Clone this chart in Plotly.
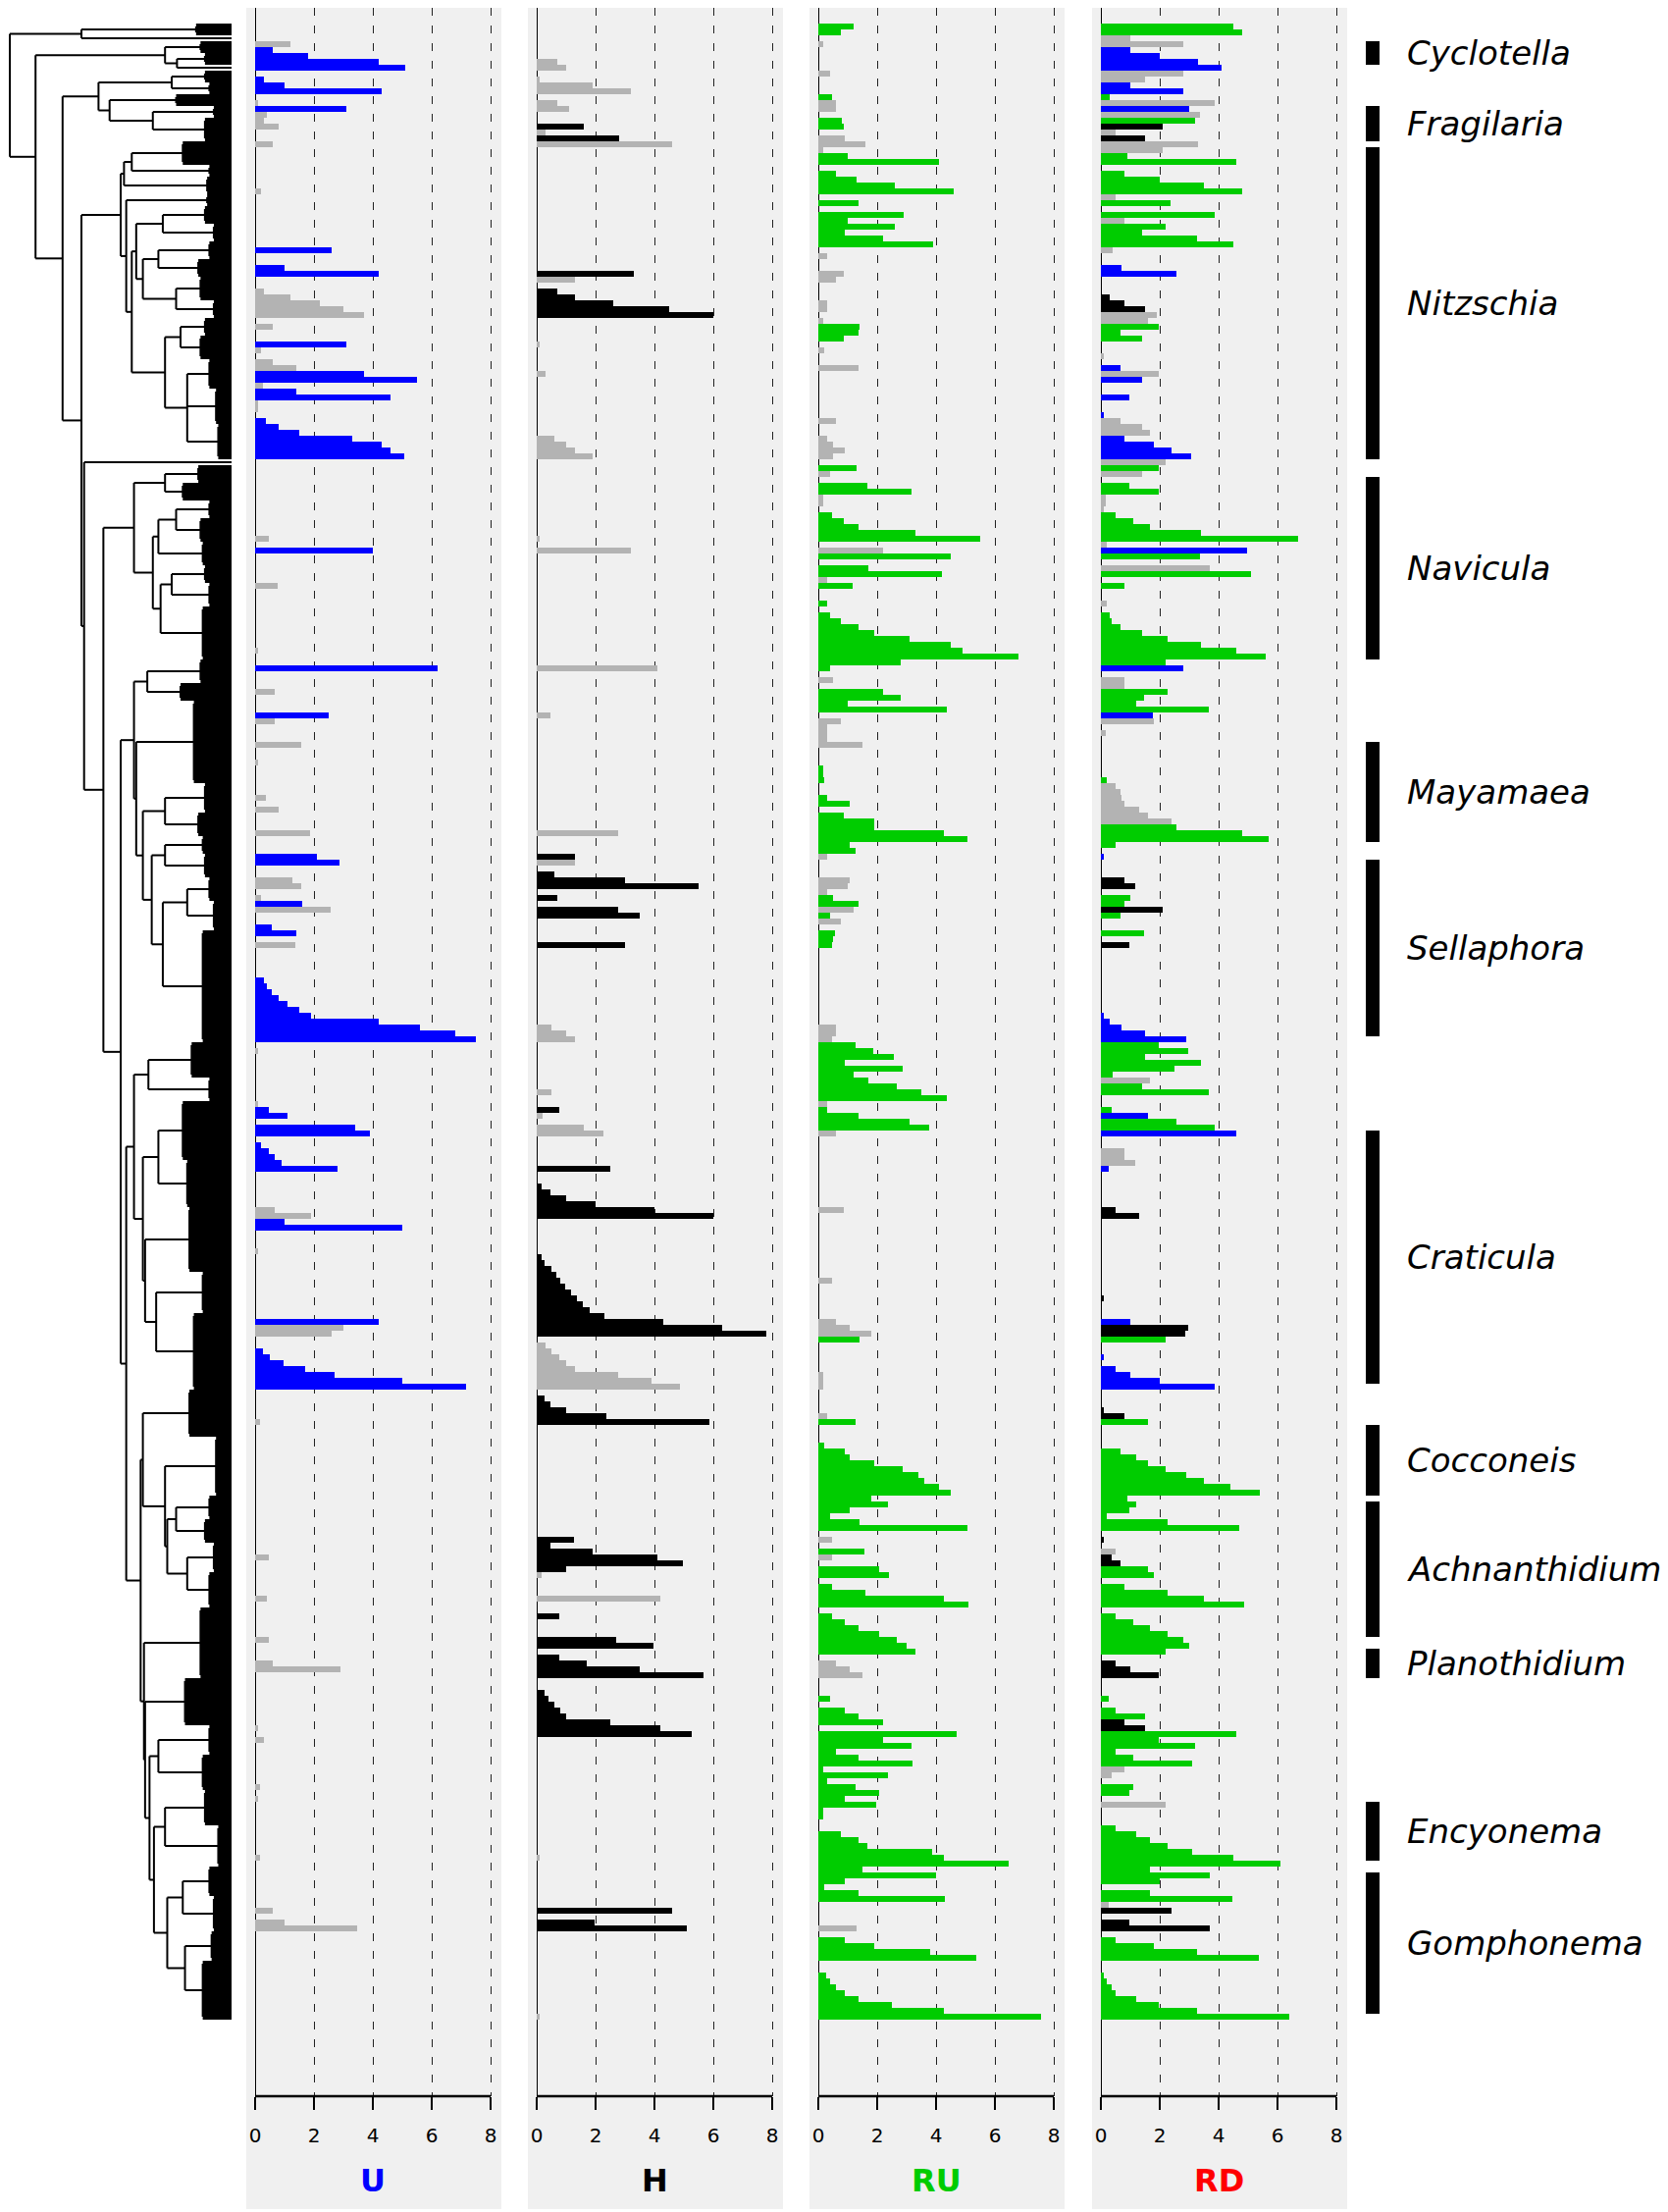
import plotly.graph_objects as go

PAGE_W, PAGE_H = 1700, 2254
PAD = 8  # default browser body margin around the plot div
W, H = PAGE_W - PAD, PAGE_H - PAD
N_ROWS = 339

PANELS = ["U", "H", "RU", "RD"]
PANEL_TITLE_COLORS = ["#0000ff", "#000000", "#00cc00", "#ff0000"]
SIG_COLORS = {"b": "#0000ff", "k": "#000000", "g": "#00cc00", "n": "#b3b3b3"}
TICKS = [0, 2, 4, 6, 8]

# (taxon index, value, significance class)
U_BARS = [
    (3, 1.2, "n"), (4, 0.6, "b"), (5, 1.8, "b"), (6, 4.2, "b"), (7, 5.1, "b"),
    (9, 0.3, "b"), (10, 1.0, "b"), (11, 4.3, "b"), (13, 0.1, "n"), (14, 3.1, "b"),
    (15, 0.4, "n"), (16, 0.3, "n"), (17, 0.8, "n"), (20, 0.6, "n"), (28, 0.2, "n"),
    (38, 2.6, "b"), (41, 1.0, "b"), (42, 4.2, "b"),
    (45, 0.3, "n"), (46, 1.2, "n"), (47, 2.2, "n"), (48, 3.0, "n"), (49, 3.7, "n"),
    (51, 0.6, "n"), (54, 3.1, "b"), (55, 0.2, "n"), (57, 0.6, "n"), (58, 1.4, "n"),
    (59, 3.7, "b"), (60, 5.5, "b"), (61, 0.25, "n"), (62, 1.4, "b"), (63, 4.6, "b"),
    (64, 0.1, "n"), (65, 0.1, "n"),
    (67, 0.35, "b"), (68, 0.8, "b"), (69, 1.5, "b"), (70, 3.3, "b"), (71, 4.3, "b"),
    (72, 4.6, "b"), (73, 5.05, "b"),
    (87, 0.45, "n"), (89, 4.0, "b"), (95, 0.75, "n"), (106, 0.1, "n"), (109, 6.2, "b"),
    (113, 0.65, "n"), (117, 2.5, "b"), (118, 0.65, "n"), (122, 1.55, "n"), (125, 0.1, "n"),
    (131, 0.35, "n"), (133, 0.8, "n"), (137, 1.85, "n"), (141, 2.1, "b"), (142, 2.85, "b"),
    (145, 1.25, "n"), (146, 1.55, "n"), (148, 0.2, "n"), (149, 1.6, "b"), (150, 2.55, "n"),
    (153, 0.55, "b"), (154, 1.4, "b"), (156, 1.35, "n"),
    (162, 0.3, "b"), (163, 0.4, "b"), (164, 0.55, "b"), (165, 0.8, "b"), (166, 1.1, "b"),
    (167, 1.5, "b"), (168, 1.9, "b"), (169, 4.2, "b"), (170, 5.6, "b"), (171, 6.8, "b"),
    (172, 7.5, "b"),
    (174, 0.1, "n"), (183, 0.1, "n"), (184, 0.45, "b"), (185, 1.1, "b"), (187, 3.4, "b"),
    (188, 3.9, "b"), (190, 0.2, "b"), (191, 0.45, "b"), (192, 0.65, "b"), (193, 0.9, "b"),
    (194, 2.8, "b"), (201, 0.65, "n"), (202, 1.9, "n"), (203, 1.0, "b"), (204, 5.0, "b"),
    (208, 0.1, "n"), (220, 4.2, "b"), (221, 3.0, "n"), (222, 2.6, "n"),
    (225, 0.25, "b"), (226, 0.5, "b"), (227, 0.95, "b"), (228, 1.7, "b"), (229, 2.7, "b"),
    (230, 5.0, "b"), (231, 7.15, "b"),
    (237, 0.15, "n"), (260, 0.45, "n"), (267, 0.4, "n"), (274, 0.45, "n"), (278, 0.6, "n"),
    (279, 2.9, "n"), (289, 0.1, "n"), (291, 0.3, "n"), (299, 0.15, "n"), (301, 0.1, "n"),
    (311, 0.15, "n"), (320, 0.6, "n"), (322, 1.0, "n"), (323, 3.45, "n"),
]

H_BARS = [
    (6, 0.7, "n"), (7, 1.0, "n"), (9, 0.1, "n"), (10, 1.9, "n"), (11, 3.2, "n"),
    (13, 0.7, "n"), (14, 1.1, "n"), (17, 1.6, "k"), (18, 0.3, "n"), (19, 2.8, "k"),
    (20, 4.6, "n"), (42, 3.3, "k"), (43, 1.3, "n"),
    (45, 0.7, "k"), (46, 1.3, "k"), (47, 2.6, "k"), (48, 4.5, "k"), (49, 6.0, "k"),
    (54, 0.1, "n"), (59, 0.3, "n"), (70, 0.6, "n"), (71, 1.0, "n"), (72, 1.3, "n"),
    (73, 1.9, "n"), (87, 0.1, "n"), (89, 3.2, "n"), (109, 4.1, "n"), (117, 0.45, "n"),
    (137, 2.75, "n"), (141, 1.3, "k"), (142, 1.3, "n"), (144, 0.6, "k"), (145, 3.0, "k"),
    (146, 5.5, "k"), (148, 0.7, "k"), (150, 2.75, "k"), (151, 3.5, "k"), (156, 3.0, "k"),
    (170, 0.5, "n"), (171, 1.0, "n"), (172, 1.3, "n"), (181, 0.5, "n"), (184, 0.75, "k"),
    (185, 0.2, "n"), (187, 1.6, "n"), (188, 2.25, "n"), (194, 2.5, "k"),
    (197, 0.15, "k"), (198, 0.45, "k"), (199, 1.0, "k"), (200, 2.0, "k"), (201, 4.0, "k"),
    (202, 6.0, "k"),
    (209, 0.15, "k"), (210, 0.25, "k"), (211, 0.5, "k"), (212, 0.65, "k"), (213, 0.8, "k"),
    (214, 0.95, "k"), (215, 1.15, "k"), (216, 1.35, "k"), (217, 1.55, "k"), (218, 1.8, "k"),
    (219, 2.3, "k"), (220, 4.3, "k"), (221, 6.3, "k"), (222, 7.8, "k"),
    (224, 0.3, "n"), (225, 0.5, "n"), (226, 0.75, "n"), (227, 1.0, "n"), (228, 1.3, "n"),
    (229, 2.75, "n"), (230, 3.9, "n"), (231, 4.85, "n"),
    (233, 0.25, "k"), (234, 0.45, "k"), (235, 1.0, "k"), (236, 2.35, "k"), (237, 5.85, "k"),
    (257, 1.25, "k"), (258, 0.45, "k"), (259, 1.9, "k"), (260, 4.1, "k"), (261, 4.95, "k"),
    (262, 1.0, "k"), (263, 0.15, "n"), (267, 4.2, "n"), (270, 0.75, "k"), (274, 2.7, "k"),
    (275, 3.95, "k"), (277, 0.75, "k"), (278, 1.7, "k"), (279, 3.5, "k"), (280, 5.65, "k"),
    (283, 0.25, "k"), (284, 0.4, "k"), (285, 0.6, "k"), (286, 0.8, "k"), (287, 1.0, "k"),
    (288, 2.5, "k"), (289, 4.2, "k"), (290, 5.25, "k"),
    (311, 0.1, "n"), (320, 4.6, "k"), (322, 1.95, "k"), (323, 5.1, "k"), (338, 0.1, "n"),
]

RU_BARS = [
    (0, 1.2, "g"), (1, 0.75, "g"), (3, 0.15, "n"), (8, 0.4, "n"), (12, 0.45, "g"),
    (13, 0.6, "n"), (14, 0.6, "n"), (16, 0.8, "g"), (17, 0.85, "g"), (19, 0.9, "n"),
    (20, 1.6, "n"), (21, 0.15, "n"), (22, 1.0, "g"), (23, 4.1, "g"),
    (25, 0.6, "g"), (26, 1.3, "g"), (27, 2.6, "g"), (28, 4.6, "g"), (30, 1.35, "g"),
    (32, 2.9, "g"), (33, 1.0, "g"), (34, 2.6, "g"), (35, 0.9, "g"), (36, 2.2, "g"),
    (37, 3.9, "g"), (39, 0.3, "n"), (42, 0.85, "n"), (43, 0.6, "n"), (47, 0.3, "n"),
    (48, 0.3, "n"), (50, 0.15, "n"), (51, 1.4, "g"), (52, 1.35, "g"), (53, 0.85, "g"),
    (55, 0.2, "n"), (58, 1.35, "n"), (67, 0.6, "n"), (70, 0.3, "n"), (71, 0.5, "n"),
    (72, 0.9, "n"), (73, 0.5, "n"), (75, 1.3, "g"), (76, 0.4, "n"), (78, 1.65, "g"),
    (79, 3.15, "g"), (80, 0.15, "n"), (81, 0.15, "n"),
    (83, 0.45, "g"), (84, 0.85, "g"), (85, 1.35, "g"), (86, 3.3, "g"), (87, 5.5, "g"),
    (89, 2.2, "n"), (90, 4.5, "g"), (92, 1.7, "g"), (93, 4.2, "g"), (94, 0.3, "n"),
    (95, 1.15, "g"), (98, 0.3, "g"), (100, 0.4, "g"), (101, 0.75, "g"),
    (102, 1.35, "g"), (103, 1.9, "g"), (104, 3.1, "g"), (105, 4.5, "g"), (106, 4.9, "g"),
    (107, 6.8, "g"), (108, 2.8, "g"), (109, 0.4, "g"), (111, 0.5, "n"),
    (113, 2.2, "g"), (114, 2.8, "g"), (115, 1.0, "g"), (116, 4.35, "g"),
    (118, 0.75, "n"), (119, 0.3, "n"), (120, 0.3, "n"), (121, 0.3, "n"), (122, 1.5, "n"),
    (126, 0.15, "g"), (127, 0.15, "g"), (128, 0.2, "g"), (131, 0.3, "g"), (132, 1.05, "g"),
    (134, 0.85, "g"), (135, 1.9, "g"), (136, 1.9, "g"), (137, 4.25, "g"), (138, 5.05, "g"),
    (139, 1.05, "g"), (140, 1.25, "g"), (141, 0.3, "n"), (145, 1.05, "n"), (146, 1.0, "n"),
    (147, 0.3, "n"), (148, 0.5, "g"), (149, 1.35, "g"), (150, 1.2, "n"), (151, 0.4, "g"),
    (152, 0.75, "n"), (154, 0.55, "g"), (155, 0.5, "g"), (156, 0.45, "g"),
    (170, 0.6, "n"), (171, 0.6, "n"), (172, 0.45, "n"),
    (173, 1.25, "g"), (174, 1.85, "g"), (175, 2.55, "g"), (176, 0.9, "g"), (177, 2.85, "g"),
    (178, 1.2, "g"), (179, 1.7, "g"), (180, 2.65, "g"), (181, 3.5, "g"), (182, 4.35, "g"),
    (183, 0.3, "n"), (184, 0.3, "g"), (185, 1.35, "g"), (186, 3.1, "g"), (187, 3.75, "g"),
    (188, 0.6, "n"), (201, 0.85, "n"), (213, 0.45, "n"), (220, 0.6, "n"), (221, 1.05, "n"),
    (222, 1.8, "n"), (223, 1.4, "g"), (229, 0.15, "n"), (230, 0.15, "n"), (231, 0.15, "n"),
    (236, 0.3, "n"), (237, 1.25, "g"), (241, 0.2, "g"),
    (242, 0.9, "g"), (243, 1.05, "g"), (244, 1.9, "g"), (245, 2.85, "g"), (246, 3.4, "g"),
    (247, 3.6, "g"), (248, 4.1, "g"), (249, 4.5, "g"), (250, 1.8, "g"),
    (251, 2.35, "g"), (252, 1.05, "g"), (253, 0.4, "g"), (254, 1.4, "g"), (255, 5.05, "g"),
    (257, 0.45, "n"), (259, 1.55, "g"), (260, 0.45, "n"), (262, 2.05, "g"), (263, 2.4, "g"),
    (265, 0.45, "g"), (266, 1.6, "g"), (267, 4.25, "g"), (268, 5.1, "g"),
    (270, 0.45, "g"), (271, 0.9, "g"), (272, 1.35, "g"), (273, 2.05, "g"), (274, 2.65, "g"),
    (275, 3.0, "g"), (276, 3.3, "g"), (278, 0.6, "n"), (279, 1.05, "n"), (280, 1.5, "n"),
    (284, 0.4, "g"), (286, 0.9, "g"), (287, 1.35, "g"), (288, 2.2, "g"),
    (290, 4.7, "g"), (291, 2.2, "g"), (292, 3.15, "g"), (293, 0.6, "g"), (294, 1.35, "g"),
    (295, 3.2, "g"), (296, 0.15, "g"), (297, 2.35, "g"), (298, 0.3, "g"), (299, 1.25, "g"),
    (300, 2.05, "g"), (301, 0.9, "g"), (302, 1.95, "g"), (303, 0.15, "g"), (304, 0.15, "g"),
    (307, 0.75, "g"), (308, 1.35, "g"), (309, 1.65, "g"), (310, 3.85, "g"), (311, 4.25, "g"),
    (312, 6.45, "g"), (313, 1.5, "g"), (314, 4.0, "g"), (315, 0.9, "g"), (316, 0.2, "g"),
    (317, 1.35, "g"), (318, 4.3, "g"), (323, 1.3, "n"),
    (325, 0.9, "g"), (326, 1.9, "g"), (327, 3.8, "g"), (328, 5.35, "g"),
    (331, 0.25, "g"), (332, 0.4, "g"), (333, 0.6, "g"), (334, 0.9, "g"), (335, 1.35, "g"),
    (336, 2.5, "g"), (337, 4.25, "g"), (338, 7.55, "g"),
]

RD_BARS = [
    (0, 4.5, "g"), (1, 4.8, "g"), (2, 1.0, "n"), (3, 2.8, "n"),
    (4, 1.0, "b"), (5, 2.0, "b"), (6, 3.3, "b"), (7, 4.1, "b"), (8, 2.8, "n"), (9, 1.5, "n"),
    (10, 1.0, "b"), (11, 2.8, "b"), (12, 0.3, "g"), (13, 3.85, "n"), (14, 3.0, "b"),
    (15, 3.35, "n"), (16, 3.2, "g"), (17, 2.1, "k"), (18, 0.5, "n"), (19, 1.5, "k"),
    (20, 3.3, "n"), (21, 2.1, "n"), (22, 0.9, "g"), (23, 4.6, "g"),
    (25, 0.8, "g"), (26, 2.0, "g"), (27, 3.5, "g"), (28, 4.8, "g"), (29, 0.5, "n"),
    (30, 2.35, "g"), (32, 3.85, "g"), (33, 0.8, "n"), (34, 2.2, "g"),
    (35, 1.4, "g"), (36, 3.25, "g"), (37, 4.5, "g"), (38, 0.4, "n"), (41, 0.7, "b"),
    (42, 2.55, "b"), (46, 0.3, "k"), (47, 0.8, "k"), (48, 1.5, "k"), (49, 1.9, "n"),
    (50, 1.6, "n"), (51, 1.95, "g"), (52, 0.65, "g"), (53, 1.4, "g"), (56, 0.1, "n"),
    (58, 0.65, "b"), (59, 1.95, "n"), (60, 1.4, "b"), (63, 0.95, "b"), (66, 0.1, "b"),
    (67, 0.65, "n"), (68, 1.4, "n"), (69, 1.65, "n"),
    (70, 0.8, "b"), (71, 1.8, "b"), (72, 2.4, "b"), (73, 3.05, "b"), (74, 2.2, "n"),
    (75, 1.95, "g"), (76, 1.4, "n"), (78, 0.95, "g"), (79, 1.95, "g"),
    (80, 0.15, "n"), (81, 0.15, "n"), (82, 0.1, "n"),
    (83, 0.5, "g"), (84, 1.1, "g"), (85, 1.65, "g"), (86, 3.4, "g"), (87, 6.7, "g"),
    (88, 0.2, "n"), (89, 4.95, "b"), (90, 3.35, "g"), (92, 3.7, "n"), (93, 5.1, "g"),
    (95, 0.8, "g"), (98, 0.2, "n"), (100, 0.3, "g"), (101, 0.35, "g"), (102, 0.65, "g"),
    (103, 1.4, "g"), (104, 2.25, "g"), (105, 3.4, "g"), (106, 4.6, "g"), (107, 5.6, "g"),
    (108, 2.2, "g"), (109, 2.8, "b"), (111, 0.8, "n"), (112, 0.8, "n"),
    (113, 2.25, "g"), (114, 1.45, "g"), (115, 1.2, "g"), (116, 3.65, "g"), (117, 1.75, "b"),
    (118, 1.8, "n"), (120, 0.15, "n"), (128, 0.2, "g"),
    (129, 0.5, "n"), (130, 0.65, "n"), (131, 0.7, "n"), (132, 0.8, "n"), (133, 1.3, "n"),
    (134, 1.6, "n"), (135, 2.4, "n"), (136, 2.55, "g"), (137, 4.8, "g"), (138, 5.7, "g"),
    (139, 0.5, "g"), (141, 0.1, "b"), (145, 0.8, "k"), (146, 1.15, "k"), (148, 1.0, "g"),
    (149, 0.8, "g"), (150, 2.1, "k"), (151, 0.65, "g"), (154, 1.45, "g"), (156, 0.95, "k"),
    (168, 0.1, "b"), (169, 0.3, "b"), (170, 0.7, "b"), (171, 1.5, "b"), (172, 2.9, "b"),
    (173, 1.95, "g"), (174, 2.95, "g"), (175, 1.5, "g"), (176, 3.4, "g"), (177, 2.5, "g"),
    (178, 0.4, "g"), (179, 1.65, "n"), (180, 1.4, "g"), (181, 3.65, "g"),
    (184, 0.35, "g"), (185, 1.6, "b"), (186, 2.55, "g"), (187, 3.85, "g"), (188, 4.6, "b"),
    (191, 0.8, "n"), (192, 0.8, "n"), (193, 1.15, "n"), (194, 0.25, "b"),
    (201, 0.5, "k"), (202, 1.3, "k"), (216, 0.1, "k"), (220, 1.0, "b"), (221, 2.95, "k"),
    (222, 2.85, "k"), (223, 2.2, "g"), (226, 0.1, "b"),
    (228, 0.5, "b"), (229, 1.0, "b"), (230, 2.0, "b"), (231, 3.85, "b"),
    (235, 0.1, "k"), (236, 0.8, "k"), (237, 1.6, "g"),
    (242, 0.65, "g"), (243, 1.2, "g"), (244, 1.6, "g"), (245, 2.2, "g"), (246, 2.9, "g"),
    (247, 3.5, "g"), (248, 4.4, "g"), (249, 5.4, "g"), (250, 0.9, "g"),
    (251, 1.2, "g"), (252, 0.95, "g"), (253, 0.2, "g"), (254, 2.25, "g"), (255, 4.7, "g"),
    (257, 0.1, "k"), (259, 0.5, "n"), (260, 0.35, "k"), (261, 0.65, "k"),
    (262, 1.6, "g"), (263, 1.8, "g"),
    (265, 0.8, "g"), (266, 2.25, "g"), (267, 3.5, "g"), (268, 4.85, "g"),
    (270, 0.5, "g"), (271, 1.1, "g"), (272, 1.65, "g"), (273, 2.25, "g"), (274, 2.8, "g"),
    (275, 3.0, "g"), (276, 2.2, "g"), (278, 0.5, "k"), (279, 1.0, "k"), (280, 1.95, "k"),
    (284, 0.25, "g"), (286, 0.5, "g"), (287, 1.5, "g"), (288, 0.8, "k"), (289, 1.5, "k"),
    (290, 4.6, "g"), (291, 1.95, "g"), (292, 3.2, "g"), (293, 0.5, "g"), (294, 1.1, "g"),
    (295, 3.1, "g"), (296, 0.8, "n"), (297, 0.35, "n"), (299, 1.1, "g"), (300, 0.95, "g"),
    (302, 2.2, "n"),
    (306, 0.5, "g"), (307, 1.2, "g"), (308, 1.65, "g"), (309, 2.25, "g"), (310, 3.1, "g"),
    (311, 4.5, "g"), (312, 6.1, "g"), (313, 1.65, "g"), (314, 3.7, "g"), (315, 2.0, "g"),
    (317, 1.65, "g"), (318, 4.45, "g"), (319, 0.25, "n"), (320, 2.4, "k"),
    (322, 0.95, "k"), (323, 3.7, "k"),
    (325, 0.5, "g"), (326, 1.8, "g"), (327, 3.25, "g"), (328, 5.35, "g"),
    (331, 0.1, "g"), (332, 0.2, "g"), (333, 0.35, "g"), (334, 0.5, "g"), (335, 1.2, "g"),
    (336, 1.95, "g"), (337, 3.25, "g"), (338, 6.4, "g"),
]

GENUS_NAMES = ["Cyclotella", "Fragilaria", "Nitzschia", "Navicula", "Mayamaea", "Sellaphora",
               "Craticula", "Cocconeis", "Achnanthidium", "Planothidium", "Encyonema", "Gomphonema"]
GENUS_FIRST = [3, 14, 21, 77, 122, 142, 188, 238, 251, 276, 302, 314]
GENUS_LAST = [6, 19, 73, 107, 138, 171, 230, 249, 273, 280, 311, 337]

# Dendrogram: ("N", height, [children]) internal node, ("F", n_leaves, height) terminal fan
NITZ = ("N", 0.5, [
    ("N", 0.485, [("N", 0.45, [("F", 4, 0.22), ("F", 2, 0.10)]), ("F", 3, 0.11)]),
    ("N", 0.475, [
        ("F", 2, 0.11),
        ("N", 0.45, [
            ("N", 0.43, [
                ("N", 0.31, [("F", 3, 0.12), ("F", 3, 0.08)]),
                ("N", 0.40, [("N", 0.33, [("F", 3, 0.10), ("F", 3, 0.15)]),
                             ("N", 0.25, [("F", 4, 0.14), ("F", 3, 0.08)])]),
            ]),
            ("N", 0.30, [("N", 0.23, [("F", 3, 0.12), ("F", 4, 0.14)]),
                         ("N", 0.20, [("F", 5, 0.10), ("F", 6, 0.07), ("F", 6, 0.06)])]),
        ]),
    ]),
])
NAV = ("N", 0.44, [
    ("N", 0.30, [("F", 3, 0.15), ("F", 3, 0.22)]),
    ("N", 0.355, [
        ("N", 0.33, [("N", 0.25, [("F", 3, 0.10), ("F", 4, 0.14)]), ("F", 4, 0.13)]),
        ("N", 0.32, [("N", 0.27, [("F", 3, 0.12), ("F", 4, 0.10)]), ("F", 9, 0.13)]),
    ]),
])
MS = ("N", 0.44, [
    ("N", 0.38, [("F", 4, 0.14), ("F", 3, 0.23)]),
    ("N", 0.43, [
        ("F", 14, 0.17),
        ("N", 0.40, [
            ("N", 0.30, [("F", 5, 0.12), ("F", 4, 0.15)]),
            ("N", 0.36, [
                ("N", 0.30, [("F", 3, 0.13), ("F", 4, 0.12)]),
                ("N", 0.31, [("N", 0.20, [("F", 4, 0.10), ("F", 5, 0.08)]), ("F", 19, 0.13)]),
            ]),
        ]),
    ]),
])
CRAT = ("N", 0.44, [
    ("N", 0.375, [("F", 6, 0.18), ("F", 4, 0.10)]),
    ("N", 0.40, [
        ("N", 0.33, [("F", 10, 0.22), ("F", 8, 0.20)]),
        ("N", 0.39, [("F", 11, 0.19), ("N", 0.34, [("F", 7, 0.13), ("F", 13, 0.17)])]),
    ]),
])
LOWER = ("N", 0.41, [
    ("N", 0.40, [("F", 8, 0.19),
                 ("N", 0.30, [("F", 10, 0.07),
                              ("N", 0.29, [("N", 0.25, [("F", 4, 0.10), ("F", 4, 0.12)]),
                                           ("N", 0.20, [("F", 5, 0.08), ("F", 6, 0.10)])])])]),
    ("N", 0.395, [("F", 12, 0.14),
                  ("N", 0.39, [("F", 8, 0.21),
                               ("N", 0.37, [("N", 0.33, [("F", 5, 0.10), ("F", 6, 0.13)]),
                                            ("N", 0.35, [("N", 0.30, [("F", 6, 0.12), ("F", 7, 0.06)]),
                                                         ("N", 0.29, [("N", 0.22, [("F", 5, 0.10), ("F", 6, 0.08)]),
                                                                      ("N", 0.21, [("F", 5, 0.09), ("F", 10, 0.13)])])])])])]),
])
DENDRO = ("N", 1.0, [
    ("N", 0.677, [("F", 2, 0.16), ("F", 1, 0.0)]),
    ("N", 0.884, [
        ("N", 0.30, [("F", 2, 0.14), ("N", 0.246, [("F", 2, 0.12), ("F", 1, 0.0)])]),
        ("N", 0.762, [
            ("N", 0.60, [
                ("N", 0.27, [("F", 2, 0.12), ("F", 2, 0.10)]),
                ("N", 0.55, [("F", 2, 0.25), ("N", 0.355, [("F", 2, 0.08), ("F", 4, 0.12)])]),
            ]),
            ("N", 0.677, [
                NITZ,
                ("N", 0.665, [
                    ("F", 1, 0.0),
                    ("N", 0.578, [NAV, ("N", 0.5, [MS, ("N", 0.475, [CRAT, LOWER])])]),
                ]),
            ]),
        ]),
    ]),
])


def build(node, start, node_segs, leaf_segs):
    if node[0] == "F":
        n, h = node[1], node[2]
        if n == 1:
            return float(start), 0.0, start + 1
        rows = list(range(start, start + n))
        for r in rows:
            leaf_segs.append((0.0, r, h, r))
        node_segs.append((h, rows[0], h, rows[-1]))
        return (rows[0] + rows[-1]) / 2.0, h, start + n
    h, children = node[1], node[2]
    ys = []
    cur = start
    for ch in children:
        y, ch_h, cur = build(ch, cur, node_segs, leaf_segs)
        node_segs.append((ch_h, y, h, y))
        ys.append(y)
    node_segs.append((h, min(ys), h, max(ys)))
    return (ys[0] + ys[-1]) / 2.0, h, cur


node_segs, leaf_segs = [], []
build(DENDRO, 0, node_segs, leaf_segs)


def seg_xy(segs):
    xs, ys = [], []
    for x0, y0, x1, y1 in segs:
        xs += [x0, x1, None]
        ys += [y0, y1, None]
    return xs, ys


def fx(px):  # page pixel -> paper x
    return (px - PAD) / W


def fy(py):  # page pixel -> paper y
    return 1 - (py - PAD) / H


fig = go.Figure()

lx, ly = seg_xy(leaf_segs)
fig.add_trace(go.Scatter(x=lx, y=ly, mode="lines", line=dict(color="black", width=6),
                         xaxis="x", yaxis="y", showlegend=False, hoverinfo="skip"))
nx, ny = seg_xy(node_segs)
fig.add_trace(go.Scatter(x=nx, y=ny, mode="lines", line=dict(color="black", width=2),
                         xaxis="x", yaxis="y", showlegend=False, hoverinfo="skip"))

ALL_BARS = [U_BARS, H_BARS, RU_BARS, RD_BARS]
PANEL_LEFT_PX = [251, 538, 825, 1113]
PANEL_W_PX = 260
Y_TOP_PX, Y_AXIS_PX, BG_BOTTOM_PX = PAD, 2136, 2251
ROW0_PX, ROW_PX = 27.0, 6.0

layout_axes = {}
shapes = []
annotations = []

for i, (name, bars) in enumerate(zip(PANELS, ALL_BARS)):
    ax = f"x{i + 2}"
    fig.add_trace(go.Bar(
        x=[b[1] for b in bars], y=[b[0] for b in bars], orientation="h", width=1.0,
        marker=dict(color=[SIG_COLORS[b[2]] for b in bars], line=dict(width=0)),
        xaxis=ax, yaxis="y", showlegend=False, hoverinfo="skip"))
    L = PANEL_LEFT_PX[i]
    layout_axes[f"xaxis{i + 2}"] = dict(
        domain=[fx(L), fx(L + PANEL_W_PX)], anchor="y",
        range=[-0.3, 8.3667], tickvals=TICKS, ticktext=[str(t) for t in TICKS],
        ticks="outside", ticklen=13, tickwidth=1.5, tickcolor="black",
        ticklabelstandoff=9,
        tickfont=dict(family="DejaVu Sans", size=20, color="black"),
        showline=False, showgrid=True, gridcolor="#222222", gridwidth=1.3, griddash="8px,10px",
        zeroline=True, zerolinecolor="black", zerolinewidth=1.2, fixedrange=True)
    shapes.append(dict(type="rect", xref=f"{ax} domain", yref="paper", x0=0, x1=1,
                       y0=fy(BG_BOTTOM_PX), y1=1.0,
                       fillcolor="#f0f0f0", line=dict(width=0), layer="below"))
    shapes.append(dict(type="line", xref=ax, yref="y domain", x0=TICKS[0], x1=TICKS[-1],
                       y0=0, y1=0, line=dict(color="black", width=2.5)))
    annotations.append(dict(text=f"<b>{name}</b>", xref=ax, x=4, yref="paper",
                            y=fy(2222), showarrow=False, xanchor="center", yanchor="middle",
                            font=dict(family="DejaVu Sans", size=32, color=PANEL_TITLE_COLORS[i])))

for name, first, last in zip(GENUS_NAMES, GENUS_FIRST, GENUS_LAST):
    shapes.append(dict(type="rect", xref="paper", yref="y", x0=fx(1392), x1=fx(1406),
                       y0=first - 0.5, y1=last + 0.5, fillcolor="black", line=dict(width=0)))
    annotations.append(dict(text=f"<i>{name}</i>", xref="paper", x=fx(1432), yref="y",
                            y=(first + last) / 2.0, showarrow=False, xanchor="left",
                            yanchor="middle",
                            font=dict(family="DejaVu Sans", size=34, color="black")))

y_top_val = (Y_TOP_PX - ROW0_PX) / ROW_PX
y_bot_val = (Y_AXIS_PX - ROW0_PX) / ROW_PX

# dendrogram horizontal scale: height 1 at page x 10, height 0 at page x 236
D_LEFT, D_RIGHT = 10.0, 236.0
d_dom_l, d_dom_r = PAD, 250.0
d_r0 = 1 - (d_dom_l - D_LEFT) / (D_RIGHT - D_LEFT)
d_r1 = 1 - (d_dom_r - D_LEFT) / (D_RIGHT - D_LEFT)

fig.update_layout(
    width=W, height=H, margin=dict(l=0, r=0, t=0, b=0),
    paper_bgcolor="white", plot_bgcolor="rgba(0,0,0,0)",
    bargap=0, barmode="overlay",
    xaxis=dict(domain=[fx(d_dom_l), fx(d_dom_r)], anchor="y", range=[d_r0, d_r1],
               visible=False, fixedrange=True),
    yaxis=dict(domain=[fy(Y_AXIS_PX), fy(Y_TOP_PX)], anchor="x",
               range=[y_bot_val, y_top_val], visible=False, fixedrange=True),
    shapes=shapes, annotations=annotations,
    **layout_axes,
)

fig.write_html("out.html")
